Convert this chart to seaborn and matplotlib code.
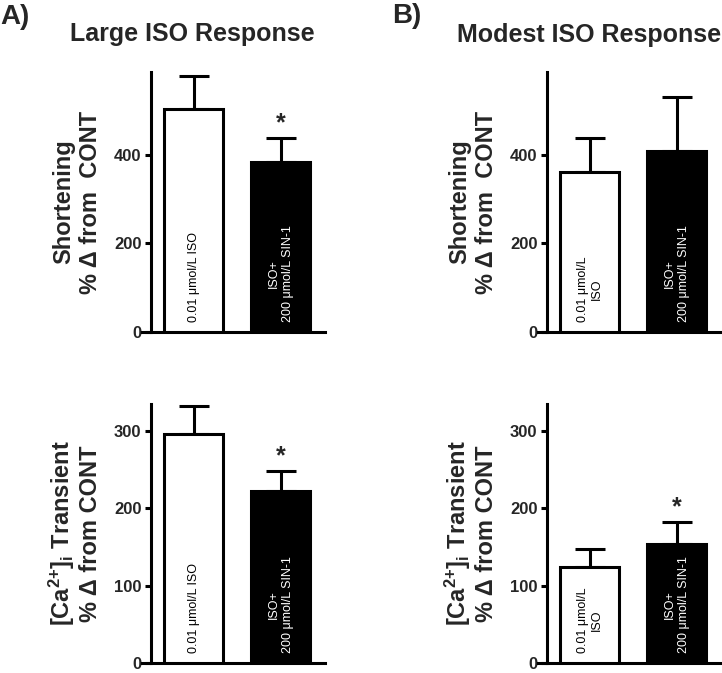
import matplotlib
matplotlib.use("Agg")
import matplotlib.pyplot as plt
import seaborn as sns
import pandas as pd

# ---------------- data ----------------
conditions = ["0.01 umol/L ISO", "ISO + 200 umol/L SIN-1"]

short_large = [503, 384]
short_large_err = [75, 54]
short_modest = [360, 407]
short_modest_err = [78, 123]

ca_large = [296, 222]
ca_large_err = [36, 26]
ca_modest = [124, 154]
ca_modest_err = [23, 29]

sig_short_large = [False, True]
sig_short_modest = [False, False]
sig_ca_large = [False, True]
sig_ca_modest = [False, True]

bar_text_large = ["0.01 μmol/L ISO", "ISO+\n200 μmol/L SIN-1"]
bar_text_modest = ["0.01 μmol/L\nISO", "ISO+\n200 μmol/L SIN-1"]

short_ticks = [0, 200, 400]
ca_ticks = [0, 100, 200, 300]

titles = ["Large ISO Response", "Modest ISO Response"]
panel_letters = ["A)", "B)"]
ylabel_short = ["Shortening", "% Δ from  CONT"]
ylabel_ca = [r"[Ca$^{\mathbf{2{+}}}$]$_{\mathbf{i}}$ Transient", "% Δ from CONT"]

# ---------------- style ----------------
sns.set_style("ticks")
plt.rcParams["font.family"] = ["Liberation Sans", "DejaVu Sans"]
plt.rcParams["mathtext.fontset"] = "custom"
plt.rcParams["mathtext.rm"] = "Liberation Sans:bold"
plt.rcParams["mathtext.bf"] = "Liberation Sans:bold"
plt.rcParams["mathtext.it"] = "Liberation Sans:bold"

W, H = 722, 673
fig = plt.figure(figsize=(W / 100, H / 100), dpi=100)

LW = 2.2
XLIM = (-0.598, 1.51)
SPINE_X = -0.5

def make_axes(left_px, top_px, bottom_px, width_px=183):
    return fig.add_axes([left_px / W, 1 - bottom_px / H, width_px / W, (bottom_px - top_px) / H])

def draw_panel(ax, vals, errs, sigs, texts, ylim, ticks):
    df = pd.DataFrame({"cond": conditions, "val": vals})
    sns.barplot(data=df, x="cond", y="val", hue="cond", palette=["white", "black"],
                edgecolor="black", linewidth=LW, width=0.68, legend=False, ax=ax,
                zorder=3)
    ax.errorbar(x=[0, 1], y=vals, yerr=[[0, 0], errs], fmt="none", ecolor="black",
                elinewidth=2.2, capsize=10.8, capthick=2.2, zorder=2)
    for s in ["top", "right"]:
        ax.spines[s].set_visible(False)
    for s in ["left", "bottom"]:
        ax.spines[s].set_linewidth(LW)
        ax.spines[s].set_color("black")
    ax.spines["left"].set_position(("data", SPINE_X))
    ax.set_xlim(*XLIM)
    ax.set_ylim(*ylim)
    ax.set_yticks(ticks)
    ax.set_yticklabels([str(t) for t in ticks], fontsize=12, fontweight="bold")
    ax.set_xticks([])
    ax.set_xlabel("")
    ax.set_ylabel("")
    ax.tick_params(axis="y", width=LW, length=4.5, pad=2, color="black")
    ax.set_facecolor("none")
    for i, (t, c) in enumerate(zip(texts, ["black", "white"])):
        ax.annotate(t, xy=(i, 0), xytext=(0, 7), textcoords="offset points",
                    rotation=90, ha="center", va="bottom", fontsize=9,
                    color=c, multialignment="center", zorder=5)
    for i, s in enumerate(sigs):
        if s:
            ax.annotate("*", xy=(i, vals[i] + errs[i]), xytext=(0, 5.5),
                        textcoords="offset points", ha="center", va="baseline",
                        fontsize=18, fontweight="bold")

def ylabel(lines, spine_px, top_px, bottom_px):
    cy = 1 - (top_px + bottom_px) / 2 / H
    fig.text((spine_px - 80) / W, cy, lines[0], rotation=90, rotation_mode="anchor",
             ha="center", va="baseline", fontsize=17, fontweight="bold")
    fig.text((spine_px - 53) / W, cy, lines[1], rotation=90, rotation_mode="anchor",
             ha="center", va="baseline", fontsize=17, fontweight="bold")

axA1 = make_axes(142, 72, 332)
draw_panel(axA1, short_large, short_large_err, sig_short_large, bar_text_large, (0, 586), short_ticks)
axB1 = make_axes(538, 72, 332)
draw_panel(axB1, short_modest, short_modest_err, sig_short_modest, bar_text_modest, (0, 586), short_ticks)
axA2 = make_axes(142, 404, 663)
draw_panel(axA2, ca_large, ca_large_err, sig_ca_large, bar_text_large, (0, 335), ca_ticks)
axB2 = make_axes(538, 404, 663)
draw_panel(axB2, ca_modest, ca_modest_err, sig_ca_modest, bar_text_modest, (0, 335), ca_ticks)

ylabel(ylabel_short, 150, 72, 332)
ylabel(ylabel_short, 546, 72, 332)
ylabel(ylabel_ca, 150, 404, 663)
ylabel(ylabel_ca, 546, 404, 663)

fig.text(192 / W, 1 - 34 / H, titles[0], ha="center", va="center", fontsize=18, fontweight="bold")
fig.text(589 / W, 1 - 35 / H, titles[1], ha="center", va="center", fontsize=18, fontweight="bold")
fig.text(0 / W, 1 - 17 / H, panel_letters[0], ha="left", va="center", fontsize=20, fontweight="bold")
fig.text(392 / W, 1 - 16 / H, panel_letters[1], ha="left", va="center", fontsize=20, fontweight="bold")

fig.savefig("out.png", dpi=100, facecolor="white")
